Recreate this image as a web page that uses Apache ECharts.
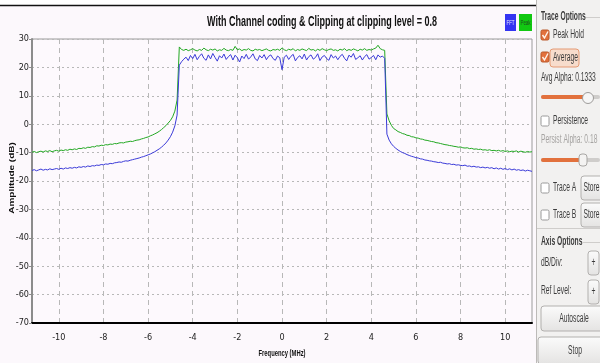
<!DOCTYPE html>
<html>
<head>
<meta charset="utf-8">
<script src="https://cdn.jsdelivr.net/npm/echarts@6/dist/echarts.min.js"></script>
<style>
  html, body { margin: 0; padding: 0; background: #fcf8fc; }
  #chart { width: 600px; height: 363px; }
</style>
</head>
<body>
<div id="chart"></div>
<script>
// FFT bins are 0.1 MHz apart; each block starts at the given frequency
const binStep = 0.1;
const leftStart = -11.2;
const bandStart = -4.6;
const rightStart = 4.7;

// Peak hold trace (dB)
const peakLeft = [
  -9.9, -9.6, -10.0, -9.7, -9.5, -9.8, -9.4, -9.6, -9.3, -9.7,
  -9.4, -9.2, -9.5, -9.1, -9.3, -9.0, -9.2, -8.8, -9.0, -8.7,
  -8.9, -8.5, -8.6, -8.3, -8.5, -8.1, -8.2, -7.9, -8.0, -7.6,
  -7.7, -7.4, -7.5, -7.2, -7.3, -7.0, -7.1, -6.8, -6.9, -6.6,
  -6.5, -6.6, -6.3, -6.2, -6.0, -6.1, -5.8, -5.6, -5.5, -5.2,
  -5.0, -4.7, -4.5, -4.1, -3.8, -3.4, -3.0, -2.5, -1.9, -1.2,
  -0.5, 0.4, 1.3, 2.6, 4.6, 8.5
];
const peakBand = [
  27.2, 26.3, 26.0, 26.4, 25.9, 26.2, 26.6, 26.1, 25.8, 26.3,
  26.0, 26.8, 26.2, 25.9, 26.4, 26.1, 26.5, 25.8, 26.2, 26.0,
  26.7, 26.1, 25.9, 26.3, 26.0, 27.4, 26.2, 26.5, 25.9, 26.3,
  26.1, 26.6, 26.0, 25.8, 26.4, 26.1, 26.3, 25.9, 26.2, 26.5,
  26.0, 25.8, 26.3, 26.1, 26.4, 26.0, 26.9, 26.2, 25.9, 26.4,
  26.1, 26.6, 25.8, 26.3, 26.0, 26.5, 26.2, 25.9, 26.7, 26.1,
  26.3, 25.8, 26.4, 26.0, 26.6, 26.2, 25.9, 26.3, 26.5, 26.0,
  26.2, 25.8, 26.4, 26.1, 26.6, 25.9, 26.3, 26.0, 26.5, 26.2,
  25.8, 26.4, 26.1, 26.6, 26.0, 26.3, 26.1, 26.5, 26.8, 27.8,
  26.6, 26.2, 26.0
];
const peakRight = [
  3.6, 1.2, -0.4, -1.5, -2.0, -2.6, -2.9, -3.3, -3.5, -3.9,
  -4.0, -4.4, -4.5, -4.8, -4.9, -5.2, -5.3, -5.6, -5.7, -5.9,
  -6.1, -6.2, -6.5, -6.6, -6.8, -7.0, -7.2, -7.3, -7.5, -7.6,
  -7.8, -7.9, -8.1, -8.0, -8.3, -8.4, -8.3, -8.6, -8.5, -8.8,
  -8.7, -8.9, -8.8, -9.1, -9.0, -9.2, -9.0, -9.3, -9.2, -9.4,
  -9.2, -9.5, -9.3, -9.6, -9.4, -9.7, -9.5, -9.6, -9.4, -9.8,
  -9.5, -9.7, -9.9, -9.6, -9.8, -9.7
];

// Averaged FFT trace (dB)
const fftLeft = [
  -16.3, -16.0, -16.4, -16.1, -15.8, -16.2, -15.9, -16.1, -15.7, -16.0,
  -15.8, -15.6, -15.9, -15.5, -15.8, -15.4, -15.6, -15.3, -15.5, -15.2,
  -15.4, -15.0, -15.2, -14.9, -15.1, -14.7, -14.9, -14.6, -14.7, -14.4,
  -14.5, -14.2, -14.3, -14.0, -14.1, -13.8, -13.9, -13.6, -13.5, -13.3,
  -13.4, -13.1, -12.9, -13.0, -12.7, -12.5, -12.3, -12.1, -11.9, -11.6,
  -11.4, -11.1, -10.8, -10.5, -10.1, -9.7, -9.2, -8.7, -8.1, -7.4,
  -6.6, -5.6, -4.4, -2.8, -0.6, 3.2
];
const fftBand = [
  20.8, 22.0, 22.9, 23.6, 22.4, 24.2, 23.1, 24.6, 22.7, 23.9,
  24.8, 23.2, 22.5, 24.4, 23.0, 24.9, 23.5, 22.2, 24.1, 23.3,
  24.7, 22.8, 23.8, 24.5, 22.6, 24.3, 23.4, 21.9, 24.0, 23.1,
  24.6, 22.9, 23.7, 24.8, 23.0, 22.4, 24.2, 23.3, 24.5, 22.7,
  23.9, 24.4, 23.1, 22.5, 24.0, 23.4, 19.2, 23.6, 24.3, 22.8,
  23.9, 24.6, 22.3, 23.5, 24.1, 23.0, 24.7, 22.6, 23.8, 24.4,
  22.9, 23.5, 24.8, 22.4, 23.7, 24.2, 23.1, 22.5, 24.5, 23.3,
  24.0, 22.7, 23.9, 24.6, 23.2, 22.3, 24.3, 23.6, 24.9, 22.8,
  23.4, 24.1, 22.6, 23.8, 24.5, 22.9, 23.5, 24.2, 22.7, 24.4,
  23.6, 24.0, 23.2
];
const fftRight = [
  -3.5, -5.6, -6.9, -7.8, -8.5, -9.1, -9.6, -10.0, -10.3, -10.7,
  -11.0, -11.3, -11.5, -11.8, -11.9, -12.2, -12.3, -12.6, -12.7, -12.9,
  -13.0, -13.2, -13.3, -13.5, -13.4, -13.7, -13.8, -14.0, -13.9, -14.2,
  -14.1, -14.4, -14.3, -14.5, -14.6, -14.4, -14.8, -14.7, -15.0, -14.8,
  -15.1, -15.0, -15.3, -15.1, -15.4, -15.2, -15.5, -15.3, -15.7, -15.4,
  -15.8, -15.5, -15.9, -15.6, -16.0, -15.7, -16.1, -15.8, -16.2, -16.0,
  -16.3, -16.1, -16.5, -16.2, -16.4, -16.6
];

const freqTicks = [-10, -8, -6, -4, -2, 0, 2, 4, 6, 8, 10];

function toPairs(start, vals) {
  return vals.map((v, i) => [+(start + i * binStep).toFixed(1), v]);
}
const peakData = toPairs(leftStart, peakLeft).concat(toPairs(bandStart, peakBand), toPairs(rightStart, peakRight));
const fftData = toPairs(leftStart, fftLeft).concat(toPairs(bandStart, fftBand), toPairs(rightStart, fftRight));

// the screenshot is squashed sideways, so texts get a horizontal squeeze
const measureCtx = document.createElement('canvas').getContext('2d');
function fitScale(text, font, width) {
  measureCtx.font = font;
  return width / measureCtx.measureText(text).width;
}
const panelFont = "'Liberation Sans', sans-serif";
const squeeze = 0.56;

function txt(x, y, text, o) {
  o = o || {};
  return {
    type: 'text', x: x, y: y, scaleX: o.scaleX || squeeze, z: 20,
    style: {
      text: text,
      fontFamily: o.family || panelFont,
      fontSize: o.size || 12,
      fontWeight: o.bold ? 'bold' : 'normal',
      fill: o.color || '#3c3c3c',
      align: o.align || 'left',
      verticalAlign: 'middle'
    }
  };
}
function checkbox(x, y, checked) {
  const els = [{
    type: 'rect', z: 20,
    shape: { x: x, y: y, width: 8, height: 10, r: 1.5 },
    style: checked ? { fill: '#e2713d', stroke: '#b9582b', lineWidth: 1 }
                   : { fill: '#ffffff', stroke: '#9a9a9a', lineWidth: 1 }
  }];
  if (checked) {
    els.push({
      type: 'polyline', z: 21,
      shape: { points: [[x + 1.5, y + 5], [x + 3.5, y + 8], [x + 7, y + 1.5]] },
      style: { stroke: '#fff4ec', lineWidth: 1.4, fill: null }
    });
  }
  return els;
}
function button(x, y, w, h, text, tx, align) {
  return [{
    type: 'rect', z: 20,
    shape: { x: x, y: y, width: w, height: h, r: 3 },
    style: {
      fill: new echarts.graphic.LinearGradient(0, 0, 0, 1, [
        { offset: 0, color: '#fbfbfb' }, { offset: 1, color: '#e4e3e2' }
      ]),
      stroke: '#b2b0ae', lineWidth: 1
    }
  }, txt(tx !== undefined ? tx : x + w / 2, y + h / 2, text, { align: align || 'center' })];
}
function slider(y, knobX, disabled) {
  return [
    { type: 'rect', z: 20, shape: { x: 541, y: y - 2, width: 59, height: 4, r: 2 }, style: { fill: '#cfcdcb' } },
    { type: 'rect', z: 20, shape: { x: 541, y: y - 2, width: knobX - 541, height: 4, r: 2 }, style: { fill: '#e2713d' } },
    disabled
      ? { type: 'rect', z: 21, shape: { x: knobX - 4, y: y - 6, width: 8, height: 12, r: 3 }, style: { fill: '#f4f3f2', stroke: '#a8a6a4' } }
      : { type: 'circle', z: 21, shape: { cx: knobX, cy: y + 1, r: 5.5 }, style: { fill: '#f6f6f6', stroke: '#9e9c9a' } }
  ];
}

const titleText = 'With Channel coding & Clipping at clipping level = 0.8';
const titleFont = "bold 15px 'Liberation Sans'";
const xNameText = 'Frequency (MHz)';
const xNameFont = "bold 9px 'Liberation Sans'";

const graphics = [
  // white strip + black rule at the very top
  { type: 'rect', shape: { x: 0, y: 0, width: 536, height: 5 }, style: { fill: '#ffffff' } },
  { type: 'line', shape: { x1: 0, y1: 5.5, x2: 536, y2: 5.5 }, style: { stroke: '#111', lineWidth: 1.5 } },
  {
    type: 'text', x: 322, y: 22, scaleX: fitScale(titleText, titleFont, 230), z: 20,
    style: { text: titleText, font: titleFont, fill: '#111', align: 'center', verticalAlign: 'middle' }
  },
  // FFT / Peak legend boxes
  { type: 'rect', shape: { x: 505, y: 14, width: 11, height: 17 }, style: { fill: '#3434f2' } },
  txt(510.5, 22.5, 'FFT', { size: 8, color: '#e6e6ff', align: 'center' }),
  { type: 'rect', shape: { x: 519, y: 14, width: 13, height: 17 }, style: { fill: '#12c812' } },
  txt(525.5, 22.5, 'Peak', { size: 8, color: '#1d4d1d', align: 'center' }),
  {
    type: 'text', x: 12, y: 178, rotation: Math.PI / 2, scaleY: 0.75, z: 20,
    style: { text: 'Amplitude (dB)', font: "bold 10px 'Liberation Sans'", fill: '#111', align: 'center', verticalAlign: 'middle' }
  },
  {
    type: 'text', x: 282, y: 354, scaleX: fitScale(xNameText, xNameFont, 47), z: 20,
    style: { text: xNameText, font: xNameFont, fill: '#111', align: 'center', verticalAlign: 'middle' }
  },

  // right-hand options panel
  { type: 'rect', z: 10, shape: { x: 536, y: 0, width: 64, height: 363 }, style: { fill: '#f2f1f0' } },
  { type: 'line', z: 11, shape: { x1: 536.5, y1: 0, x2: 536.5, y2: 363 }, style: { stroke: '#bcbab8', lineWidth: 1 } },
  txt(541, 17, 'Trace Options', { bold: true }),
  { type: 'line', z: 11, shape: { x1: 585, y1: 17.5, x2: 600, y2: 17.5 }, style: { stroke: '#cfcdcb' } },
  ...checkbox(541, 30, true),
  txt(553, 35, 'Peak Hold'),
  { type: 'rect', z: 19, shape: { x: 550, y: 49, width: 29, height: 18, r: 3 }, style: { fill: '#f7dccc', stroke: '#e59a74' } },
  ...checkbox(541, 52, true),
  txt(553, 58, 'Average'),
  txt(541, 78, 'Avg Alpha: 0.1333'),
  ...slider(97, 588, false),
  ...checkbox(541, 116, false),
  txt(553, 121, 'Persistence'),
  txt(541, 140, 'Persist Alpha: 0.18', { color: '#a6a4a2' }),
  ...slider(160, 583, true),
  ...checkbox(541, 183, false),
  txt(553, 188, 'Trace A'),
  ...button(581, 176, 24, 24, 'Store', 583.5, 'left'),
  ...checkbox(541, 210, false),
  txt(553, 215, 'Trace B'),
  ...button(581, 203, 24, 24, 'Store', 583.5, 'left'),
  { type: 'line', z: 11, shape: { x1: 537, y1: 228.5, x2: 600, y2: 228.5 }, style: { stroke: '#cfcdcb' } },
  txt(541, 242, 'Axis Options', { bold: true }),
  { type: 'line', z: 11, shape: { x1: 583, y1: 242.5, x2: 600, y2: 242.5 }, style: { stroke: '#cfcdcb' } },
  txt(541, 263, 'dB/Div:'),
  ...button(588, 251, 11, 24, '+'),
  txt(541, 291, 'Ref Level:'),
  ...button(588, 280, 11, 24, '+'),
  ...button(541, 306, 62, 25, 'Autoscale', 574),
  ...button(538, 337, 65, 27, 'Stop', 575)
];

const labelFont = "'DejaVu Sans Condensed', 'Liberation Sans', sans-serif";

const chart = echarts.init(document.getElementById('chart'));
chart.setOption({
  animation: false,
  backgroundColor: '#fcf8fc',
  grid: {
    left: 32, top: 39, width: 500, height: 284,
    show: true, backgroundColor: '#fdf9fd', borderColor: '#9a9a9a', borderWidth: 1,
    outerBoundsMode: 'none'
  },
  xAxis: {
    type: 'value', min: -11.2, max: 11.2,
    axisLine: { show: true, onZero: false, lineStyle: { color: '#000', width: 2 } },
    axisTick: { show: false, customValues: freqTicks },
    axisLabel: {
      customValues: freqTicks, margin: 10,
      fontFamily: labelFont, fontSize: 9, color: '#222'
    },
    splitLine: { show: true, lineStyle: { color: '#b8b8b8', width: 1, type: [5, 4] } }
  },
  yAxis: {
    type: 'value', min: -70, max: 30, interval: 10,
    axisLine: { show: true, onZero: false, lineStyle: { color: '#8c8c8c', width: 2 } },
    axisTick: { show: true, length: 3, lineStyle: { color: '#8c8c8c' } },
    axisLabel: { margin: 3, fontFamily: labelFont, fontSize: 9, color: '#222' },
    splitLine: { show: true, lineStyle: { color: '#b8b8b8', width: 1, type: [2, 3] } }
  },
  series: [
    {
      name: 'Peak', type: 'line', data: peakData, showSymbol: false,
      lineStyle: { color: '#22a822', width: 1 }, itemStyle: { color: '#22a822' }
    },
    {
      name: 'FFT', type: 'line', data: fftData, showSymbol: false,
      lineStyle: { color: '#3a3ad8', width: 1 }, itemStyle: { color: '#3a3ad8' }
    }
  ],
  graphic: { elements: graphics }
});
</script>
</body>
</html>
